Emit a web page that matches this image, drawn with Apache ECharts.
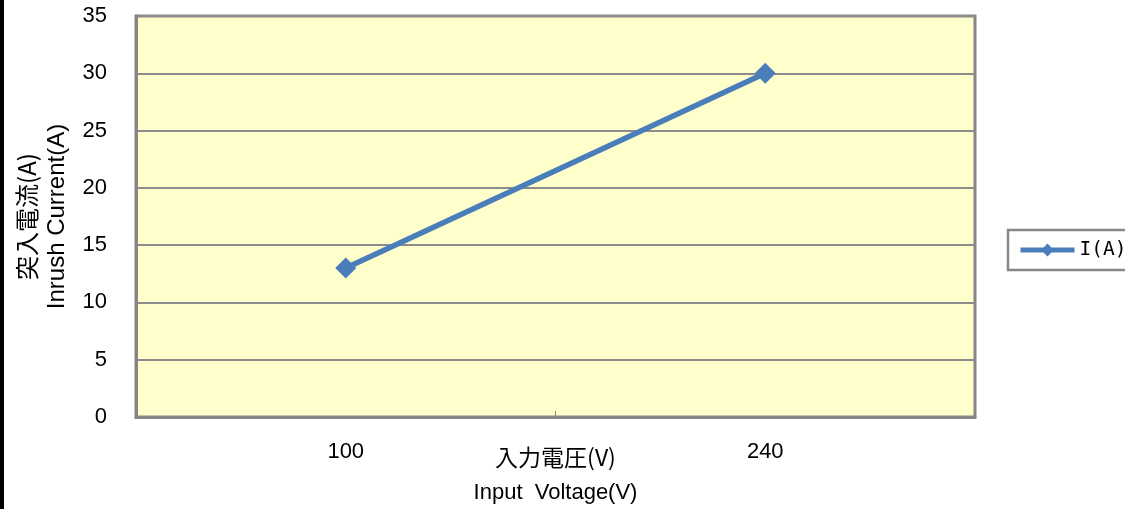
<!DOCTYPE html>
<html>
<head>
<meta charset="utf-8">
<script src="https://cdn.jsdelivr.net/npm/echarts@6/dist/echarts.min.js"></script>
<style>
html,body{margin:0;padding:0;background:#fff;}
#c{width:1125px;height:509px;}
</style>
</head>
<body>
<div id="c"></div>
<script>
const categories = ['100', '240'];
const seriesName = 'I(A)';
const values = [13, 30];
const yMin = 0, yMax = 35, yInterval = 5;
const xNameJp = '入力電圧(V)';
const xNameEn = 'Input  Voltage(V)';
const yNameJp = '突入電流(A)';
const yNameEn = 'Inrush Current(A)';

const latin = '"Liberation Sans", Arial, sans-serif';
const jp = '"Noto Sans CJK JP", sans-serif';
const chart = echarts.init(document.getElementById('c'));
chart.setOption({
  animation: false,
  backgroundColor: '#fff',
  textStyle: { fontFamily: latin },
  graphic: [{ type: 'rect', left: 0, top: 0, shape: { width: 4, height: 509 }, style: { fill: '#000' } }],
  grid: {
    left: 136, top: 16, width: 839, height: 401,
    outerBoundsMode: 'none',
    containLabel: false,
    show: true, backgroundColor: '#FFFFCC', borderColor: '#868686', borderWidth: 3
  },
  legend: {
    show: true,
    left: 1008, top: 230,
    orient: 'vertical',
    padding: [9, 40, 9, 10],
    borderColor: '#868686', borderWidth: 2.5,
    itemWidth: 54, itemHeight: 16, itemGap: 0,
    lineStyle: { width: 5 },
    textStyle: { fontSize: 19.5, color: '#000', fontFamily: '"DejaVu Sans Mono", monospace', lineHeight: 22 },
    data: [seriesName]
  },
  xAxis: {
    type: 'category',
    data: categories,
    boundaryGap: true,
    axisLine: { show: true, lineStyle: { color: '#868686', width: 3 } },
    axisTick: { show: true, inside: true, length: 6, lineStyle: { color: '#868686', width: 1 } },
    axisLabel: { fontSize: 22, color: '#000', margin: 24, fontFamily: latin },
    splitLine: { show: false },
    name: '{jp|' + xNameJp + '}\n{en|' + xNameEn + '}',
    nameLocation: 'middle',
    nameGap: 23,
    nameMoveOverlap: false,
    nameTextStyle: {
      color: '#000',
      rich: {
        jp: { fontSize: 23, fontFamily: jp, lineHeight: 35, color: '#000' },
        en: { fontSize: 22, fontFamily: latin, lineHeight: 35, color: '#000' }
      }
    }
  },
  yAxis: {
    type: 'value',
    min: yMin, max: yMax, interval: yInterval,
    axisLine: { show: true, lineStyle: { color: '#868686', width: 3 } },
    axisTick: { show: false },
    axisLabel: { fontSize: 22, color: '#000', margin: 29, fontFamily: latin },
    splitLine: { show: true, lineStyle: { color: '#8c8c8c', width: 2 } },
    name: '{jp|' + yNameJp + '}\n{en|' + yNameEn + '}',
    nameLocation: 'middle',
    nameRotate: 90,
    nameGap: 63,
    nameMoveOverlap: false,
    nameTextStyle: {
      color: '#000',
      rich: {
        jp: { fontSize: 24, fontFamily: jp, lineHeight: 31, color: '#000' },
        en: { fontSize: 24, fontFamily: latin, lineHeight: 31, color: '#000' }
      }
    }
  },
  series: [{
    name: seriesName,
    type: 'line',
    data: values,
    symbol: 'diamond',
    symbolSize: 21,
    itemStyle: { color: '#4A7EBB' },
    lineStyle: { color: '#4A7EBB', width: 5.5 }
  }]
});
</script>
</body>
</html>
